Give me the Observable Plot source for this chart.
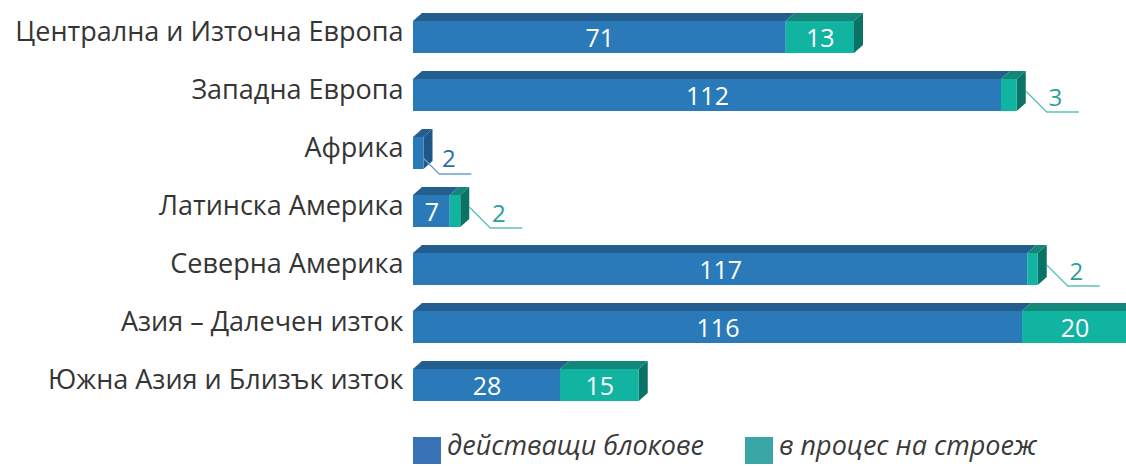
<!DOCTYPE html>
<html><head><meta charset="utf-8">
<script src="https://cdn.jsdelivr.net/npm/d3@7"></script>
<script src="https://cdn.jsdelivr.net/npm/@observablehq/plot@0.6"></script>
<style>
body{margin:0;background:#fff;font-family:"Open Sans",sans-serif;}
#wrap{position:relative;width:1126px;height:466px;overflow:hidden;}
.sw{position:absolute;top:437px;width:28px;height:27px;}
.lt{position:absolute;top:431px;font-style:italic;font-size:27px;line-height:1;color:#3a3a3a;white-space:nowrap;}
</style></head><body><div id="wrap"></div>
<script>
const regions = ["Централна и Източна Европа","Западна Европа","Африка","Латинска Америка","Северна Америка","Азия – Далечен изток","Южна Азия и Близък изток"];
const operating = [71,112,2,7,117,116,28];
const construction = [13,3,0,2,2,20,15];
const seriesNames = ["действащи блокове","в процес на строеж"];

const colors = {
  [seriesNames[0]]: {front:"#2a7aba", top:"#235e8e", side:"#1f5788", label:"#2b6db3", leader:"#6f9fd0", legend:"#3a72b8"},
  [seriesNames[1]]: {front:"#10b4a0", top:"#13887a", side:"#0b7266", label:"#2a9f98", leader:"#5cc2bc", legend:"#3ba6a6"}
};

const segs = [];
regions.forEach((r,i)=>{
  const a = operating[i], b = construction[i];
  segs.push({region:r, series:seriesNames[0], x1:0, x2:a, value:a, last:b===0});
  if (b>0) segs.push({region:r, series:seriesNames[1], x1:a, x2:a+b, value:b, last:true});
});
const inside = segs.filter(s=>s.value>=5);
const outTeal = segs.filter(s=>s.value<5 && s.series===seriesNames[1]);
const outBlue = segs.filter(s=>s.value<5 && s.series===seriesNames[0]);

const DX=9, DY=8;
const depth = (index, scales) => {
  const x = scales.x, y = scales.y, bw = y.bandwidth ? y.bandwidth() : 32.7;
  const g = d3.create("svg:g");
  for (const s of segs) {
    const X1 = x(s.x1), X2 = x(s.x2), T = y(s.region), B = T + bw, c = colors[s.series];
    g.append("polygon").attr("points", [[X1,T],[X1+DX,T-DY],[X2+DX,T-DY],[X2,T]].join(" ")).attr("fill", c.top);
    if (s.last) g.append("polygon").attr("points", [[X2,T],[X2+DX,T-DY],[X2+DX,B-DY],[X2,B]].join(" ")).attr("fill", c.side);
  }
  for (const s of segs.filter(s=>s.value<5)) {
    const X1 = x(s.x1), X2 = x(s.x2), T = y(s.region), mid = T + bw/2, c = colors[s.series];
    let sx, sy;
    if (s.series===seriesNames[1]) { sx = X2+DX; sy = mid-DY/2; } else { sx = (X1+X2)/2; sy = mid; }
    const ex = sx+21, ey = sy+21;
    g.append("polyline").attr("points", [[sx,sy],[ex,ey],[ex+32,ey]].join(" "))
      .attr("fill","none").attr("stroke", c.leader).attr("stroke-width",1.3);
  }
  return g.node();
};

const chart = Plot.plot({
  width: 1126, height: 420,
  marginLeft: 413, marginRight: 0, marginTop: 20, marginBottom: 17,
  x: {domain: [0, 713/5.25], axis: null},
  y: {domain: regions, axis: null, paddingInner: 0.44, paddingOuter: 0, align: 0.5},
  style: {fontFamily: "'Open Sans', sans-serif", background: "transparent"},
  marks: [
    depth,
    Plot.barX(segs, {y: "region", x1: "x1", x2: "x2", fill: d => colors[d.series].front}),
    Plot.text(inside, {y: "region", x: d => (d.x1+d.x2)/2, text: d => String(d.value), fill: "white", fontSize: 25, dy: 1}),
    Plot.text(outTeal, {y: "region", x: "x2", text: d => String(d.value), fill: d => colors[d.series].label, fontSize: 24, dx: DX+29, dy: 3}),
    Plot.text(outBlue, {y: "region", x: d => (d.x1+d.x2)/2, text: d => String(d.value), fill: d => colors[d.series].label, fontSize: 24, dx: 30, dy: 6}),
    Plot.text(regions, {y: d => d, x: d => 0, text: d => d, textAnchor: "end", dx: -10, dy: -5, fontSize: 27, fill: "#353535"})
  ]
});
const wrap = document.getElementById("wrap");
wrap.appendChild(chart);
const lefts = [413, 745];
seriesNames.forEach((n,i)=>{
  const sw = document.createElement("div");
  sw.className = "sw"; sw.style.left = lefts[i] + "px"; sw.style.background = colors[n].legend;
  const t = document.createElement("div");
  t.className = "lt"; t.style.left = (lefts[i] + 34) + "px"; t.textContent = n;
  wrap.appendChild(sw); wrap.appendChild(t);
});
</script></body></html>
